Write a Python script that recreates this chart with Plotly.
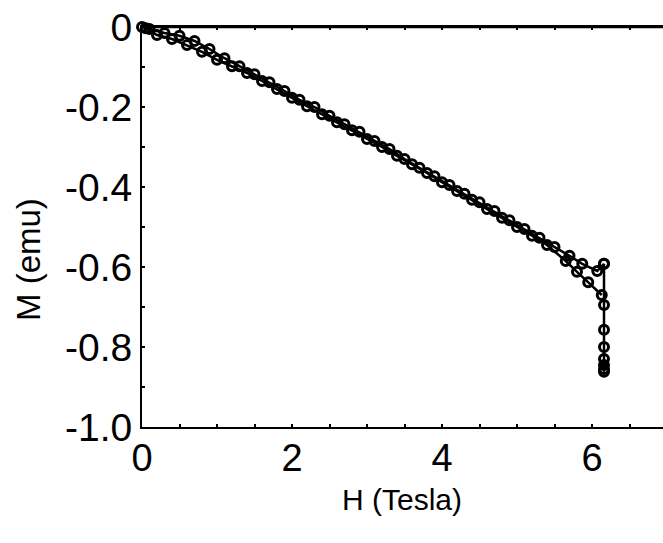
import plotly.graph_objects as go

# Upper branch (field sweep up), ends at the top point near 6.15 T
h_up = [0.0, 0.1, 0.3, 0.5, 0.7, 0.9, 1.1, 1.3, 1.5, 1.7, 1.9, 2.1, 2.3, 2.5, 2.7,
        2.9, 3.1, 3.3, 3.5, 3.7, 3.9, 4.1, 4.3, 4.5, 4.7, 4.9, 5.1, 5.3, 5.5, 5.7,
        5.87, 6.07, 6.16]
m_up = [0.0, -0.005, -0.015, -0.022, -0.035, -0.055, -0.078, -0.098, -0.118, -0.138,
        -0.160, -0.182, -0.200, -0.222, -0.243, -0.262, -0.285, -0.305, -0.330, -0.352,
        -0.373, -0.395, -0.417, -0.438, -0.460, -0.483, -0.505, -0.527, -0.550, -0.572,
        -0.592, -0.610, -0.592]

# Drop at constant field
h_drop = [6.16, 6.16, 6.16, 6.16, 6.16, 6.16, 6.16, 6.16]
m_drop = [-0.592, -0.695, -0.757, -0.800, -0.830, -0.845, -0.855, -0.862]

# Lower branch
h_low = [0.05, 0.2, 0.4, 0.6, 0.8, 1.0, 1.2, 1.4, 1.6, 1.8, 2.0, 2.2, 2.4, 2.6, 2.8,
         3.0, 3.2, 3.4, 3.6, 3.8, 4.0, 4.2, 4.4, 4.6, 4.8, 5.0, 5.2, 5.4, 5.65, 5.8,
         5.95, 6.13]
m_low = [-0.003, -0.020, -0.030, -0.045, -0.062, -0.082, -0.098, -0.115, -0.135, -0.155,
         -0.177, -0.198, -0.218, -0.238, -0.258, -0.280, -0.300, -0.322, -0.343, -0.365,
         -0.388, -0.410, -0.432, -0.455, -0.477, -0.500, -0.522, -0.545, -0.585, -0.612,
         -0.638, -0.670]

x_ticks = [i * 0.5 for i in range(14)]
x_labels = ["0", "2", "4", "6"]
y_ticks = [-i / 10 for i in range(11)]
y_labels = ["0", "-0.2", "-0.4", "-0.6", "-0.8", "-1.0"]

FONT = "Liberation Sans, Arial, sans-serif"
W, H = 663, 543
L, R, T, B = 142, 0, 27, 116
PW, PH = W - L - R, H - T - B

marker = dict(symbol="circle-open", size=9, color="black", line=dict(width=3, color="black"))
line = dict(color="black", width=2.5)

fig = go.Figure()
for hx, my in [(h_low, m_low), (h_up, m_up), (h_drop, m_drop)]:
    fig.add_trace(go.Scatter(x=hx, y=my, mode="lines+markers", line=line, marker=marker,
                             showlegend=False, cliponaxis=False))

xt_text = []
for v in x_ticks:
    s = f"{v:g}"
    xt_text.append(s if s in x_labels else "")
yt_text = []
for v in y_ticks:
    s = "0" if abs(v) < 1e-9 else f"{v:.1f}"
    yt_text.append(s if s in y_labels else "")

fig.update_layout(
    width=W, height=H,
    margin=dict(l=L, r=R, t=T, b=B, pad=0),
    paper_bgcolor="white", plot_bgcolor="white",
    font=dict(family=FONT, color="black"),
    xaxis=dict(range=[0, PW / 75.0], tickvals=x_ticks, ticktext=xt_text,
               ticks="inside", ticklen=3, tickwidth=2, tickcolor="black",
               showline=True, linecolor="black", linewidth=2, mirror="allticks",
               ticklabelstandoff=-4,
               showgrid=False, zeroline=False, tickfont=dict(size=38, family=FONT)),
    yaxis=dict(range=[-1.0, 0.0], tickvals=y_ticks, ticktext=yt_text,
               ticks="inside", ticklen=3, tickwidth=2, tickcolor="black",
               showline=True, linecolor="black", linewidth=2, mirror=False,
               showgrid=False, zeroline=False, tickfont=dict(size=39, family=FONT)),
)

# top frame line
fig.add_shape(type="line", xref="paper", yref="paper", x0=0, x1=1, y0=1, y1=1,
              line=dict(color="black", width=2.5), layer="above")

def px_to_paper(px, py):
    return (px - L) / PW, (H - B - py) / PH

ax, ay = px_to_paper(402, 499)
fig.add_annotation(text="H (Tesla)", x=ax, y=ay, xref="paper", yref="paper",
                   showarrow=False, font=dict(size=30, family=FONT), xanchor="center", yanchor="middle")
bx, by = px_to_paper(28, 260)
fig.add_annotation(text="M (emu)", x=bx, y=by, xref="paper", yref="paper", textangle=-90,
                   showarrow=False, font=dict(size=33, family=FONT), xanchor="center", yanchor="middle")

fig.write_html("out.html")
